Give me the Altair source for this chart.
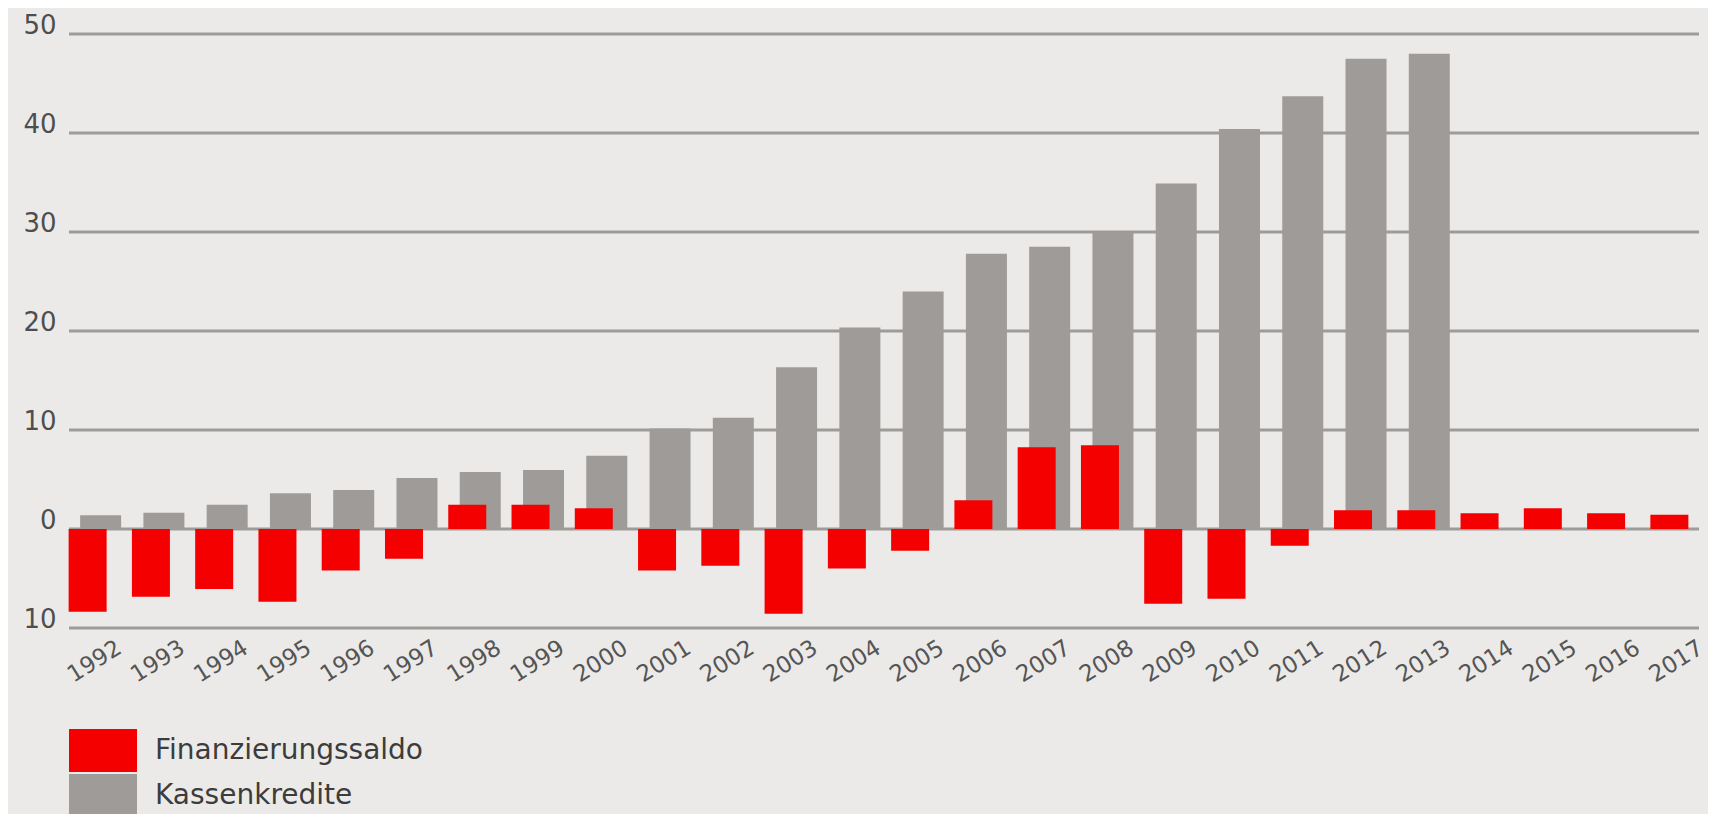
import altair as alt
import pandas as pd

years = ["1992", "1993", "1994", "1995", "1996", "1997", "1998", "1999", "2000",
         "2001", "2002", "2003", "2004", "2005", "2006", "2007", "2008", "2009",
         "2010", "2011", "2012", "2013", "2014", "2015", "2016", "2017"]

finanzierungssaldo = [-8.35, -6.85, -6.05, -7.35, -4.2, -3.0, 2.45, 2.45, 2.1,
                      -4.2, -3.7, -8.55, -4.0, -2.2, 2.9, 8.25, 8.45, -7.55,
                      -7.05, -1.7, 1.9, 1.9, 1.6, 2.1, 1.6, 1.45]

kassenkredite = [1.4, 1.65, 2.45, 3.6, 3.95, 5.15, 5.75, 5.95, 7.4,
                 10.15, 11.25, 16.35, 20.35, 24.0, 27.8, 28.5, 30.0, 34.9,
                 40.4, 43.7, 47.5, 48.0, None, None, None, None]

y_ticks = [-10, 0, 10, 20, 30, 40, 50]
series_names = ["Finanzierungssaldo", "Kassenkredite"]
series_colors = ["#F40000", "#9F9B98"]

rows = []
for j, v in zip(years, finanzierungssaldo):
    rows.append({"Jahr": j, "Serie": series_names[0], "Wert": v})
for j, v in zip(years, kassenkredite):
    if v is not None:
        rows.append({"Jahr": j, "Serie": series_names[1], "Wert": v})
df = pd.DataFrame(rows)

FONT = "DejaVu Sans"

x_enc = alt.X(
    "Jahr:O",
    sort=years,
    scale=alt.Scale(paddingInner=0, paddingOuter=0),
    axis=alt.Axis(title=None, labelAngle=328, labelAlign="center",
                  labelBaseline="middle", labelPadding=33, ticks=False,
                  domain=False, grid=False, labelFont=FONT, labelFontSize=23,
                  labelColor="#555555"),
)

y_scale = alt.Scale(domain=[-10, 50], nice=False)
y_axis = alt.Axis(title=None, values=y_ticks, labelExpr="'' + abs(datum.value)",
                  grid=False, ticks=False, domain=False, labelFont=FONT,
                  labelFontSize=26, labelColor="#4E4E4E", labelPadding=7,
                  labelAlign="right", labelBaseline="alphabetic", labelOffset=-1)

color_enc = alt.Color(
    "Serie:N",
    scale=alt.Scale(domain=series_names, range=series_colors),
    legend=alt.Legend(title=None, orient="none", legendX=6, legendY=694,
                      direction="vertical",
                      symbolType="M-1,-0.632L1,-0.632L1,0.632L-1,0.632Z",
                      symbolSize=4624, symbolStrokeWidth=0, symbolOpacity=1,
                      labelFont=FONT, labelFontSize=28, labelColor="#3C3C3C",
                      labelOffset=18, clipHeight=45, rowPadding=0, padding=0,
                      labelLimit=0),
)

grid = alt.Chart(pd.DataFrame({"Wert": y_ticks})).mark_rule(
    color="#9E9B98", strokeWidth=3
).encode(
    y=alt.Y("Wert:Q", scale=y_scale, axis=y_axis),
    x=alt.value(6),
    x2=alt.value(1636),
)

grey = alt.Chart(df).transform_filter(
    alt.datum.Serie == series_names[1]
).mark_bar(width=41, xOffset=6).encode(
    x=x_enc,
    y=alt.Y("Wert:Q", scale=y_scale, axis=y_axis),
    color=color_enc,
)

red = alt.Chart(df).transform_filter(
    alt.datum.Serie == series_names[0]
).mark_bar(width=38, xOffset=-7).encode(
    x=x_enc,
    y=alt.Y("Wert:Q", scale=y_scale, axis=y_axis),
    color=color_enc,
)

chart = alt.layer(grid, grey, red).properties(
    width=1645,
    height=594,
    autosize=alt.AutoSizeParams(type="none"),
    padding={"left": 55, "top": 26, "right": 0, "bottom": 186},
    background="#EBEAE8",
).configure_view(stroke=None)

chart.save("out.html", embed_options={"renderer": "svg", "actions": False})
